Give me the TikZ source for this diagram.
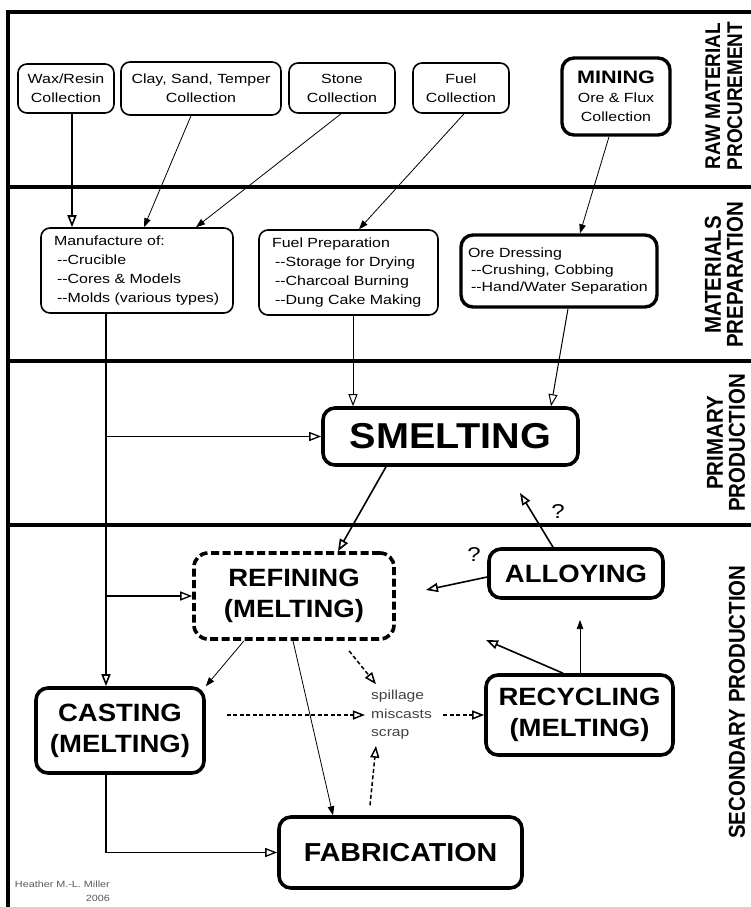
\documentclass[tikz,border=0pt]{standalone}
\usepackage{fontspec}
\setmainfont{Liberation Sans}[FakeStretch=1.2]
\newfontfamily\bigfont{Liberation Sans}[FakeStretch=1.1]
\newfontfamily\bandfont{Liberation Sans}[FakeStretch=0.89]
\usetikzlibrary{positioning, arrows.meta}

\begin{document}
\begin{tikzpicture}[x=1pt,y=-1pt,>={Triangle[open,length=12pt,width=9pt]},
  box/.style={draw,line width=1.6pt,rounded corners=9pt,align=center,inner sep=0pt,
    font=\fontsize{13.3}{19}\selectfont},
  lbox/.style={box,align=left},
  bigbox/.style={draw,line width=3.6pt,rounded corners=12pt,align=center,inner sep=0pt,
    font=\bigfont\bfseries\fontsize{25}{31}\selectfont},
  band/.style={rotate=90,align=center,font=\bandfont\bfseries\fontsize{23}{22}\selectfont},
  rule/.style={line width=3.5pt},
  dark/.style={-{Triangle[length=9pt,width=6.5pt]}},
  dashy/.style={line width=1.5pt,dash pattern=on 4pt off 2.5pt}]
  \useasboundingbox (0,0) rectangle (751,907);

  % frame and bands
  \draw[rule] (6.25,12) -- (751,12);
  \draw[rule] (8,10.25) -- (8,907);
  \draw[rule] (8,187) -- (751,187);
  \draw[rule] (8,361) -- (751,361);
  \draw[rule] (8,525) -- (751,525);
  \node[band,font=\bandfont\bfseries\fontsize{21.3}{22}\selectfont] (b_1) at (724,96) {RAW MATERIAL\\PROCUREMENT};
  \node[band] (b_2) at (724,275) {MATERIALS\\PREPARATION};
  \node[band] (b_3) at (726,443) {PRIMARY\\PRODUCTION};
  \node[band,font=\bandfont\bfseries\fontsize{23}{22}\selectfont] (b_4) at (737,702) {SECONDARY PRODUCTION};

  % raw material procurement
  \node[box,minimum width=96pt,minimum height=49pt] (wax) at (66,88.5) {Wax/Resin\\Collection};
  \node[box,minimum width=160pt,minimum height=53pt] (clay) at (201,88.5) {Clay, Sand, Temper\\Collection};
  \node[box,minimum width=106pt,minimum height=50pt] (stone) at (342,88) {Stone\\Collection};
  \node[box,minimum width=96pt,minimum height=50pt] (fuelc) at (461,88) {Fuel\\Collection};
  \node[box,line width=3.4pt,rounded corners=12pt,minimum width=108pt,minimum height=77pt] (mining) at (616,96.5)
    {{\bfseries\fontsize{18}{20}\selectfont MINING}\\Ore \& Flux\\Collection};

  % materials preparation
  \node[lbox,text width=166pt,minimum width=192pt,minimum height=85pt] (manuf) at (137,270.5)
    {Manufacture of:\\\hspace*{3pt}-{}-Crucible\\\hspace*{3pt}-{}-Cores \& Models\\\hspace*{3pt}-{}-Molds (various types)};
  \node[lbox,text width=153pt,minimum width=179pt,minimum height=85pt] (fuelprep) at (348.5,272.5)
    {Fuel Preparation\\\hspace*{3pt}-{}-Storage for Drying\\\hspace*{3pt}-{}-Charcoal Burning\\\hspace*{3pt}-{}-Dung Cake Making};
  \node[lbox,line width=3.4pt,rounded corners=12pt,font=\fontsize{13.3}{17}\selectfont,
    text width=182pt,minimum width=196pt,minimum height=72pt] (oredress) at (559,271)
    {Ore Dressing\\\hspace*{3pt}-{}-Crushing, Cobbing\\\hspace*{3pt}-{}-Hand/Water Separation};

  % primary and secondary production
  \node[bigbox,font=\bigfont\bfseries\fontsize{36}{40}\selectfont,minimum width=255pt,minimum height=57pt] (smelting) at (450.5,436.5) {SMELTING};
  \node[bigbox,dash pattern=on 8pt off 3.5pt,rounded corners=14pt,minimum width=200pt,minimum height=86pt] (refining) at (294,596) {REFINING\\(MELTING)};
  \node[bigbox,minimum width=174pt,minimum height=49pt] (alloying) at (576,573.5) {ALLOYING};
  \node[bigbox,minimum width=168pt,minimum height=85pt] (casting) at (120,730.5) {CASTING\\(MELTING)};
  \node[bigbox,minimum width=187pt,minimum height=80pt] (recycling) at (579.5,715) {RECYCLING\\(MELTING)};
  \node[bigbox,font=\bigfont\bfseries\fontsize{26}{31}\selectfont,minimum width=243pt,minimum height=71pt] (fabrication) at (400.5,852.5) {FABRICATION};
  \node[align=left,inner sep=6pt,text=black!75,font=\fontsize{13}{18.5}\selectfont] (scrap) at (401.5,715) {spillage\\miscasts\\scrap};
  \node[font=\fontsize{20}{20}\selectfont] (q_1) at (474,555) {?};
  \node[font=\fontsize{20}{20}\selectfont] (q_2) at (558,512) {?};
  \node[align=right,anchor=north east,inner sep=0pt,text=black!65,font=\fontsize{9}{14}\selectfont] (credit) at (110,881)
    {Heather M.-L. Miller\\2006};

  \coordinate (a_1) at (426,590);
  \coordinate (a_2) at (520,493);
  \coordinate (r_1) at (580,620);
  \coordinate (r_2) at (486,640);

  % connectors
  \draw[->,line width=1.6pt] ([xshift=6pt]wax.south) -- ([xshift=6pt]wax.south |- manuf.north);
  \path[dark,line width=0.8pt]
    ([xshift=-10pt]clay.south) edge ([xshift=7pt]manuf.north)
    ([xshift=-1pt]stone.south) edge ([xshift=59pt]manuf.north)
    ([xshift=3pt]fuelc.south) edge ([xshift=10.5pt]fuelprep.north)
    ([xshift=-7pt]mining.south) edge ([xshift=21pt]oredress.north);
  \path[->,line width=1pt]
    ([xshift=4.5pt]fuelprep.south) edge ([xshift=4.5pt]fuelprep.south |- smelting.north)
    ([xshift=9pt]oredress.south) edge ([xshift=100.5pt]smelting.north);
  \draw[->,line width=1.6pt] ([xshift=-31pt]manuf.south) -- ([xshift=-14pt]casting.north);
  \draw[->,line width=1.3pt] ([xshift=-31pt]manuf.south |- smelting.west) -- (smelting.west);
  \draw[->,line width=1.3pt] ([xshift=-31pt]manuf.south |- refining.west) -- (refining.west);
  \draw[->,line width=1.6pt] ([xshift=-64.5pt]smelting.south) -- ([xshift=44pt]refining.north);
  \path[->,line width=1.6pt]
    ([yshift=-3.5pt]alloying.west) edge (a_1)
    ([xshift=-23pt]alloying.north) edge (a_2)
    ([xshift=-16.5pt]recycling.north) edge (r_2);
  \draw[dark,line width=0.7pt] ([xshift=0.5pt]recycling.north) -- (r_1);
  \path[dark,line width=0.8pt]
    ([xshift=-50pt]refining.south) edge (casting.north east)
    ([xshift=-1pt]refining.south) edge ([xshift=-67.5pt]fabrication.north);
  \path[->,dashy]
    ([xshift=47pt]refining.south) edge[shorten <=13pt] ([xshift=-25.5pt]scrap.north)
    ([yshift=15.5pt]casting.east) edge[shorten <=21pt] ([yshift=15.5pt]casting.east -| scrap.west)
    (scrap.east) edge[shorten <=5pt] (recycling.west)
    ([xshift=-31.5pt]fabrication.north) edge[shorten <=10pt] ([xshift=-25.5pt]scrap.south);
  \draw[->,line width=1.3pt] ([xshift=-14pt]casting.south) |- (fabrication.west);
\end{tikzpicture}
\end{document}
